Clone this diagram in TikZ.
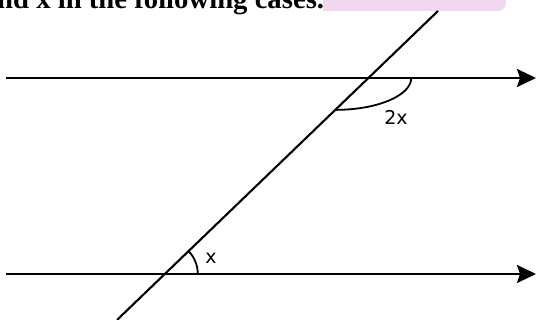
\documentclass[tikz,border=0pt]{standalone}
\usepackage{fontspec}
\setmainfont{Liberation Serif}
\newfontfamily\lblfont{DejaVu Sans}
\usetikzlibrary{arrows.meta, calc}
\definecolor{banner}{RGB}{240,216,241}
\definecolor{ink}{HTML}{000000}

\begin{document}
\begin{tikzpicture}[x=1pt, y=1pt,
    >={Stealth[length=19pt, width=18pt, inset=3pt]},
    parallel/.style={->, line width=2.2pt, ink},
    transv/.style={line width=2.1pt, ink},
    anglemark/.style={line width=1.8pt, ink},
    lbl/.style={font=\lblfont\fontsize{19}{19}\selectfont, inner sep=0pt, text=ink}
  ]
  \useasboundingbox (0,0) rectangle (536,320);

  % Heading (cut by the page edge)
  \fill[banner] (323,309) -- (498,309) arc[start angle=-90, end angle=0, radius=8]
        -- (506,330) -- (323,330) -- cycle;
  \node[anchor=base west, inner sep=0pt,
        font=\bfseries\fontsize{28.7}{30}\selectfont] (title) at (-3,311.5)
        {nd x in the following cases.};

  % Points
  \coordinate (a1) at (6,242);
  \coordinate (a2) at (536,242);
  \coordinate (b1) at (6,46);
  \coordinate (b2) at (536,46);
  \coordinate (t1) at (117,0);
  \coordinate (t2) at (438,309);
  \coordinate (p) at (intersection of a1--a2 and t1--t2);
  \coordinate (q) at (intersection of b1--b2 and t1--t2);
  \coordinate (m) at ($(t1)!0.68!(t2)$); % where the 2x mark meets the transversal

  % Parallel lines and transversal
  \draw[parallel] (a1) -- (a2);
  \draw[parallel] (b1) -- (b2);
  \draw[transv] (t1) -- (t2);

  % Angle marks
  \draw[anglemark] (m) arc[start angle=270, end angle=360, x radius=76, y radius=32];
  \draw[anglemark] ([shift={(0:33)}]q) arc[start angle=0, end angle=43.9, radius=33];
  \node[lbl] (twox) at (396,203) {2x};
  \node[lbl] (onex) at (211,62) {x};

\end{tikzpicture}
\end{document}
